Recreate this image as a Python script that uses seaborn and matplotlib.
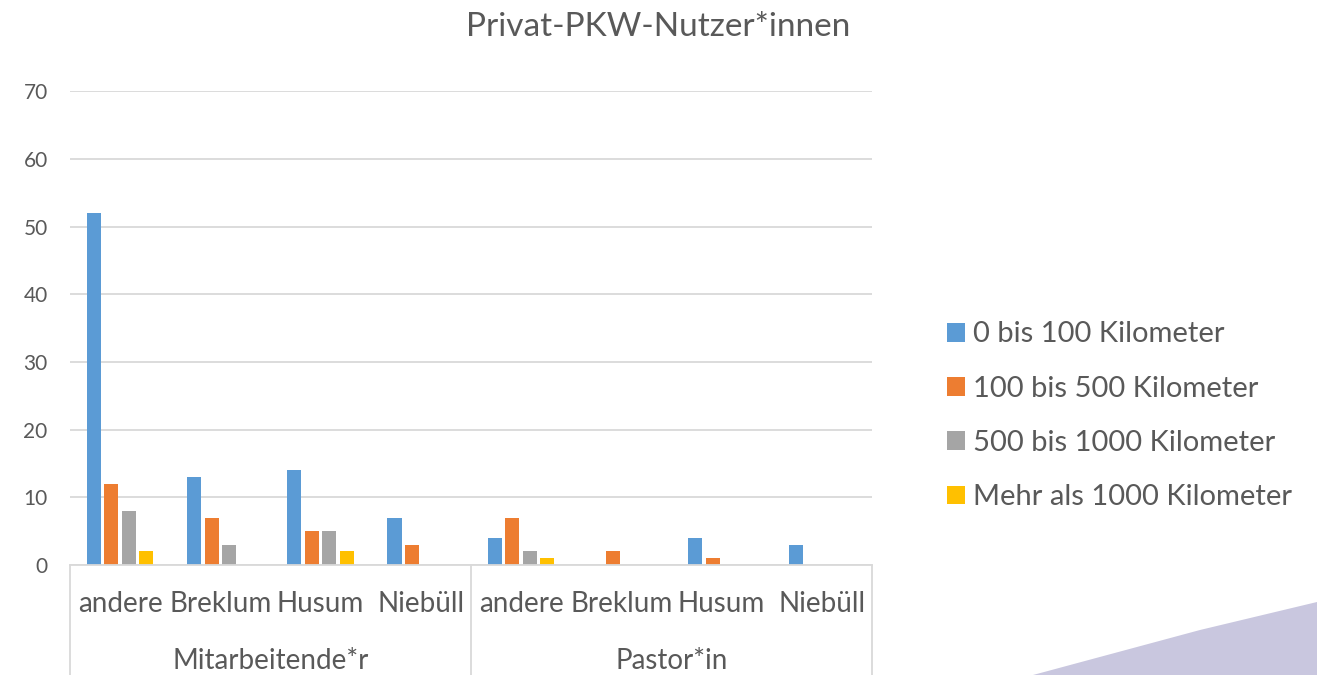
import pandas as pd
import numpy as np
import seaborn as sns
import matplotlib.pyplot as plt
from matplotlib.patches import Polygon
import matplotlib.transforms as mtransforms

groups = ["Mitarbeitende*r", "Pastor*in"]
places = ["andere", "Breklum", "Husum", "Niebüll"]
series = ["0 bis 100 Kilometer", "100 bis 500 Kilometer",
          "500 bis 1000 Kilometer", "Mehr als 1000 Kilometer"]
km_0_100 = [52, 13, 14, 7, 4, 0, 4, 3]
km_100_500 = [12, 7, 5, 3, 7, 2, 1, 0]
km_500_1000 = [8, 3, 5, 0, 2, 0, 0, 0]
km_1000_plus = [2, 0, 2, 0, 1, 0, 0, 0]
colors = ["#5B9BD5", "#ED7D31", "#A5A5A5", "#FFC000"]

cats = [g + "|" + p for g in groups for p in places]
rows = []
for s, vals in zip(series, [km_0_100, km_100_500, km_500_1000, km_1000_plus]):
    for c, v in zip(cats, vals):
        rows.append({"cat": c, "series": s, "value": v})
df = pd.DataFrame(rows)

sns.set_style("white")
plt.rcParams['font.family'] = ['Lato', 'DejaVu Sans']
txt = "#595959"
grid = "#D9D9D9"

fig = plt.figure(figsize=(13.17, 6.75), dpi=100)
ax = fig.add_axes([0.0531, 0.163, 0.609, 0.702])

sns.barplot(data=df, x="cat", y="value", hue="series", order=cats,
            hue_order=series, palette=colors, saturation=1, width=0.7,
            gap=0.2, linewidth=0, ax=ax)

ax.set_ylim(0, 70)
ax.set_xlim(-0.5, 7.5)
ax.set_yticks(range(0, 71, 10))
ax.yaxis.grid(True, color=grid, linewidth=1.3)
ax.set_axisbelow(True)
for s in ["top", "right", "left"]:
    ax.spines[s].set_visible(False)
ax.spines["bottom"].set_color(grid)
ax.spines["bottom"].set_linewidth(1.3)
ax.tick_params(axis="y", length=0, labelsize=15, labelcolor=txt, pad=16)
ax.tick_params(axis="x", length=0, labelsize=20, labelcolor=txt, pad=19)
ax.set_xticks(range(len(cats)))
ax.set_xticklabels(places * len(groups))
ax.set_xlabel("")
ax.set_ylabel("")

# multi-level category axis
trans = mtransforms.blended_transform_factory(ax.transData, ax.transAxes)
for xb in [-0.5, 3.5, 7.5]:
    ax.plot([xb, xb], [0, -0.25], color=grid, linewidth=1.3,
            transform=trans, clip_on=False)
for i, g in enumerate(groups):
    ax.text(i * 4 + 1.5, -0.203, g, transform=trans, ha="center", va="center",
            fontsize=20, color=txt)

fig.suptitle("Privat-PKW-Nutzer*innen", x=0.5, y=0.96, va="center",
             fontsize=24, color=txt)

handles, labels = ax.get_legend_handles_labels()
ax.legend_.remove()
fig.legend(handles, labels, loc="center left", bbox_to_anchor=(0.719, 0.384),
           frameon=False, fontsize=21, labelcolor=txt, handlelength=0.62,
           handleheight=0.62, handletextpad=0.28, labelspacing=0.97,
           borderpad=0, borderaxespad=0)

fig.patches.append(Polygon([[1033 / 1317, 0], [1, 0], [1, 73 / 675],
                            [1200 / 1317, 45 / 675]],
                           closed=True, transform=fig.transFigure,
                           facecolor="#C9C7DF", edgecolor="none"))

fig.savefig("out.png", dpi=100)
